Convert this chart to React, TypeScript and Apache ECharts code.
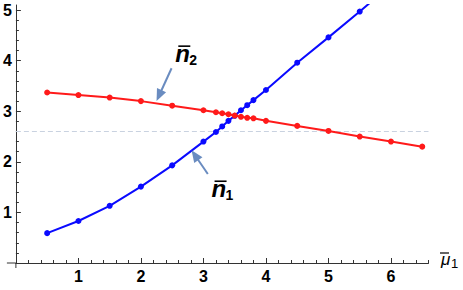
import React, { useEffect, useRef } from 'react';
import * as echarts from 'echarts';

// ---- data ----
const xValues = [0.5, 1, 1.5, 2, 2.5, 3, 3.2, 3.3, 3.4, 3.5, 3.6, 3.7, 3.8, 4, 4.5, 5, 5.5, 6, 6.5];
const n1Values = [0.59, 0.83, 1.13, 1.51, 1.93, 2.40, 2.59, 2.70, 2.81, 2.91, 3.02, 3.12, 3.22, 3.42, 3.96, 4.46, 4.97, 5.5, 6.05];
const n2Values = [3.37, 3.32, 3.27, 3.20, 3.11, 3.02, 2.98, 2.96, 2.94, 2.915, 2.89, 2.87, 2.86, 2.81, 2.71, 2.61, 2.50, 2.40, 2.30];
const xTickLabels = [1, 2, 3, 4, 5, 6];
const yTickLabels = [1, 2, 3, 4, 5];
const xMajorTicks = [0, 1, 2, 3, 4, 5, 6];
const yMajorTicks = [0, 1, 2, 3, 4, 5];
const xMax = 6.6;
const yMax = 5.1;
const refLevel = 2.6;

// annotation anchors in data coordinates
const n2LabelAt = [2.55, 3.97];
const n2ArrowTail = [2.49, 3.85];
const n2ArrowTip = [2.25, 3.2];
const n1LabelAt = [3.13, 1.3];
const n1ArrowTail = [3.07, 1.76];
const n1ArrowTip = [2.81, 2.23];

const minorTicks = (max: number) => {
  const out: number[] = [];
  for (let i = 1; i * 0.2 <= max + 1e-9; i++) {
    if (i % 5 !== 0) out.push(Math.round(i * 2) / 10);
  }
  return out;
};

const FONT = 'Liberation Sans, Arial, sans-serif';
const AXIS_COLOR = '#333';
const ARROW_COLOR = '#6a8cc0';
const BLUE = '#0a0aff';
const RED = '#ff1a1a';

export default function App() {
  const ref = useRef<HTMLDivElement>(null);

  useEffect(() => {
    document.body.style.margin = '0';
    if (!ref.current) return;
    const chart = echarts.init(ref.current, null, { renderer: 'svg' });

    const baseX = {
      type: 'value' as const,
      min: 0,
      max: xMax,
      position: 'bottom' as const,
      splitLine: { show: false },
    };
    const baseY = {
      type: 'value' as const,
      min: 0,
      max: yMax,
      position: 'left' as const,
      splitLine: { show: false },
    };

    chart.setOption({
      animation: false,
      grid: { left: 14, right: 34.5, top: 5, bottom: 27 },
      xAxis: [
        {
          ...baseX,
          axisLine: { show: true, onZero: false, lineStyle: { color: AXIS_COLOR, width: 1 } },
          axisTick: { show: true, inside: true, length: 5, customValues: xMajorTicks, lineStyle: { color: AXIS_COLOR } },
          axisLabel: {
            customValues: xTickLabels,
            fontSize: 16,
            fontWeight: 'bold',
            fontFamily: FONT,
            color: '#000',
            margin: 5,
          },
        },
        {
          ...baseX,
          axisLine: { show: false, onZero: false },
          axisTick: { show: true, inside: true, length: 3, customValues: minorTicks(xMax), lineStyle: { color: AXIS_COLOR } },
          axisLabel: { show: false },
        },
      ],
      yAxis: [
        {
          ...baseY,
          axisLine: { show: true, onZero: false, lineStyle: { color: AXIS_COLOR, width: 1 } },
          axisTick: { show: true, inside: true, length: 5, customValues: yMajorTicks, lineStyle: { color: AXIS_COLOR } },
          axisLabel: {
            customValues: yTickLabels,
            fontSize: 16,
            fontWeight: 'bold',
            fontFamily: FONT,
            color: '#000',
            margin: 4,
          },
        },
        {
          ...baseY,
          axisLine: { show: false, onZero: false },
          axisTick: { show: true, inside: true, length: 3, customValues: minorTicks(yMax), lineStyle: { color: AXIS_COLOR } },
          axisLabel: { show: false },
        },
      ],
      series: [
        {
          type: 'line',
          xAxisIndex: 0,
          yAxisIndex: 0,
          z: 10,
          data: xValues.map((x, i) => [x, n1Values[i]]),
          symbol: 'circle',
          symbolSize: 6,
          lineStyle: { color: BLUE, width: 2 },
          itemStyle: { color: BLUE },
          clip: true,
          markLine: {
            silent: true,
            symbol: 'none',
            label: { show: false },
            lineStyle: { color: '#c9d2e0', type: [5, 3], width: 1 },
            data: [{ yAxis: refLevel }],
          },
        },
        {
          type: 'line',
          xAxisIndex: 0,
          yAxisIndex: 0,
          z: 11,
          data: xValues.map((x, i) => [x, n2Values[i]]),
          symbol: 'circle',
          symbolSize: 6,
          lineStyle: { color: RED, width: 2 },
          itemStyle: { color: RED },
          clip: true,
        },
      ],
    });

    const px = (p: number[]) => chart.convertToPixel({ xAxisIndex: 0, yAxisIndex: 0 }, p) as number[];

    const arrow = (tailD: number[], tipD: number[]) => {
      const T = px(tailD);
      const P = px(tipD);
      const dx = P[0] - T[0];
      const dy = P[1] - T[1];
      const len = Math.hypot(dx, dy);
      const ux = dx / len;
      const uy = dy / len;
      const hl = 12;
      const hw = 5;
      const B = [P[0] - ux * hl, P[1] - uy * hl];
      return [
        {
          type: 'line',
          shape: { x1: T[0], y1: T[1], x2: B[0] + ux * 2, y2: B[1] + uy * 2 },
          style: { stroke: ARROW_COLOR, lineWidth: 2 },
          z: 20,
        },
        {
          type: 'polygon',
          shape: {
            points: [
              [P[0], P[1]],
              [B[0] - uy * hw, B[1] + ux * hw],
              [B[0] + uy * hw, B[1] - ux * hw],
            ],
          },
          style: { fill: ARROW_COLOR },
          z: 20,
        },
      ];
    };

    const nLabel = (atD: number[], sub: string) => {
      const A = px(atD);
      const ax = A[0];
      const ay = A[1];
      return [
        {
          type: 'text',
          x: ax,
          y: ay - 0.3465 * 24,
          style: {
            text: 'n',
            font: `italic bold 24px ${FONT}`,
            fill: '#000',
            align: 'left',
            verticalAlign: 'middle',
          },
          z: 20,
        },
        {
          type: 'line',
          shape: { x1: ax + 3, y1: ay - 16, x2: ax + 15, y2: ay - 16 },
          style: { stroke: '#000', lineWidth: 1.6 },
          z: 20,
        },
        {
          type: 'text',
          x: ax + 14,
          y: ay + 3 - 0.3465 * 14,
          style: {
            text: sub,
            font: `bold 14px ${FONT}`,
            fill: '#000',
            align: 'left',
            verticalAlign: 'middle',
          },
          z: 20,
        },
      ];
    };

    const O = px([0, 0]);
    const E = px([xMax, 0]);
    const muX = E[0] + 12.5;
    const muY = E[1] + 2;

    chart.setOption({
      graphic: [
        {
          type: 'line',
          shape: { x1: O[0] - 9, y1: O[1], x2: O[0], y2: O[1] },
          style: { stroke: AXIS_COLOR, lineWidth: 1 },
        },
        {
          type: 'line',
          shape: { x1: O[0], y1: O[1], x2: O[0], y2: O[1] + 5 },
          style: { stroke: AXIS_COLOR, lineWidth: 1 },
        },
        ...arrow(n2ArrowTail, n2ArrowTip),
        ...arrow(n1ArrowTail, n1ArrowTip),
        ...nLabel(n2LabelAt, '2'),
        ...nLabel(n1LabelAt, '1'),
        {
          type: 'text',
          x: muX,
          y: muY - 0.3465 * 17,
          style: {
            text: 'μ',
            font: `italic 17px ${FONT}`,
            fill: '#000',
            align: 'left',
            verticalAlign: 'middle',
          },
        },
        {
          type: 'line',
          shape: { x1: muX - 1, y1: muY - 12, x2: muX + 8, y2: muY - 12 },
          style: { stroke: '#000', lineWidth: 1.2 },
        },
        {
          type: 'text',
          x: muX + 10,
          y: muY + 3 - 0.3465 * 13,
          style: {
            text: '1',
            font: `13px ${FONT}`,
            fill: '#000',
            align: 'left',
            verticalAlign: 'middle',
          },
        },
      ],
    });

    return () => chart.dispose();
  }, []);

  return <div ref={ref} style={{ width: 463, height: 290 }} />;
}
